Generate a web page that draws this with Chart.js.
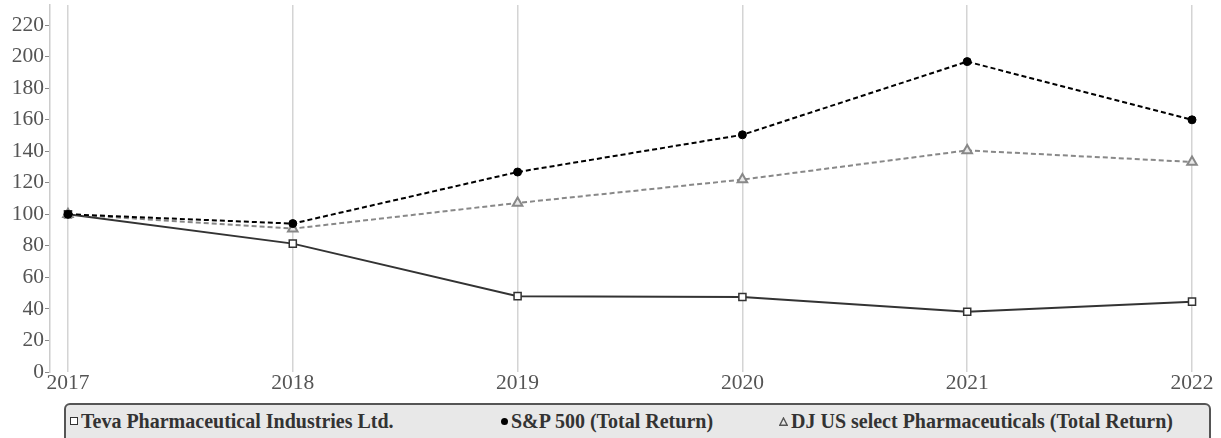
<!DOCTYPE html>
<html>
<head>
<meta charset="utf-8">
<script src="https://cdn.jsdelivr.net/npm/chart.js@4.4.1/dist/chart.umd.min.js"></script>
<style>
  html, body { margin: 0; padding: 0; background: #fff; }
  #wrap { position: relative; width: 1221px; height: 438px; overflow: hidden; }
  #legend {
    position: absolute; left: 64px; top: 403px; width: 1143px; height: 60px;
    background: #e8e8e8; border: 2px solid #555; border-radius: 6px; box-sizing: content-box;
    font-family: "Liberation Serif", "Times New Roman", serif; font-weight: bold; font-size: 20px; color: #333;
  }
  .item { position: absolute; top: 4px; white-space: nowrap; line-height: 24px; }
  .mk { display: inline-block; vertical-align: middle; margin-right: 3px; position: relative; top: -2px; }
</style>
</head>
<body>
<div id="wrap">
  <canvas id="c" width="1221" height="438"></canvas>
  <div id="legend"></div>
</div>
<script>
const years = [2017, 2018, 2019, 2020, 2021, 2022];
const yTicks = [0, 20, 40, 60, 80, 100, 120, 140, 160, 180, 200, 220];
const seriesNames = [
  "Teva Pharmaceutical Industries Ltd.",
  "S&P 500 (Total Return)",
  "DJ US select Pharmaceuticals (Total Return)"
];
const teva = [100, 81.4, 48.1, 47.5, 38.2, 44.6];
const sp500 = [100, 94.1, 126.8, 150.4, 196.8, 159.9];
const djPharma = [100, 90.9, 107.2, 122.0, 140.5, 133.2];

const toPts = arr => arr.map((v, i) => ({ x: years[i], y: v }));
const serif = '"Liberation Serif", "Times New Roman", serif';

const chart = new Chart(document.getElementById('c'), {
  type: 'line',
  data: {
    datasets: [
      {
        label: seriesNames[1], data: toPts(sp500), order: 0,
        borderColor: '#000', borderWidth: 2, borderDash: [5, 3],
        pointStyle: 'circle', pointRadius: 4, pointBackgroundColor: '#000', pointBorderColor: '#000', pointBorderWidth: 1
      },
      {
        label: seriesNames[2], data: toPts(djPharma), order: 1,
        borderColor: '#888', borderWidth: 2, borderDash: [5, 3],
        pointStyle: 'triangle', pointRadius: 5.5, pointBackgroundColor: '#e8e8e8', pointBorderColor: '#888', pointBorderWidth: 2
      },
      {
        label: seriesNames[0], data: toPts(teva), order: 2,
        borderColor: '#333', borderWidth: 2,
        pointStyle: 'rect', pointRadius: 5, pointBackgroundColor: '#fff', pointBorderColor: '#333', pointBorderWidth: 1.5
      }
    ]
  },
  options: {
    responsive: false,
    animation: false,
    devicePixelRatio: 1,
    layout: { autoPadding: false, padding: { left: 0, right: 11, top: 5, bottom: 36 } },
    plugins: { legend: { display: false }, tooltip: { enabled: false } },
    elements: { line: { tension: 0 } },
    scales: {
      x: {
        type: 'linear', min: 2016.92, max: 2022.08,
        afterBuildTicks: s => { s.ticks = years.map(v => ({ value: v })); },
        afterFit: s => { s.height = 30; s.paddingLeft = 0; s.paddingRight = 0; },
        grid: { display: true, drawOnChartArea: true, drawTicks: false, color: '#d4d4d4', lineWidth: 1.5 },
        border: { display: false },
        ticks: { padding: -2, color: '#555', font: { family: serif, size: 21.5 }, callback: v => String(v), maxRotation: 0, autoSkip: false }
      },
      y: {
        type: 'linear', min: 0, max: 232.7,
        afterBuildTicks: s => { s.ticks = yTicks.map(v => ({ value: v })); },
        afterFit: s => { s.width = 50; s.paddingTop = 0; s.paddingBottom = 0; },
        grid: { display: true, drawOnChartArea: false, drawTicks: true, tickLength: 5, color: '#888', lineWidth: 1 },
        border: { display: true, color: '#ccc', width: 1.5 },
        ticks: { padding: 1, color: '#555', font: { family: serif, size: 21.5 } }
      }
    }
  }
});

// Legend built from the dataset names
const legend = document.getElementById('legend');
const triSvg = '<svg class="mk" width="9" height="9" viewBox="0 0 9 9"><polygon points="4.5,1 8.2,8.2 0.8,8.2" fill="none" stroke="#555" stroke-width="1.4"/></svg>';
const legendItems = [
  { name: seriesNames[0], left: 4, mk: '<span class="mk" style="width:6px;height:6px;border:1.5px solid #333;background:#fff"></span>' },
  { name: seriesNames[1], left: 435, mk: '<span class="mk" style="width:7px;height:7px;border-radius:50%;background:#000"></span>' },
  { name: seriesNames[2], left: 713, mk: triSvg }
];
legendItems.forEach(it => {
  const d = document.createElement('div');
  d.className = 'item';
  d.style.left = it.left + 'px';
  d.innerHTML = it.mk;
  d.appendChild(document.createTextNode(it.name));
  legend.appendChild(d);
});
</script>
</body>
</html>
